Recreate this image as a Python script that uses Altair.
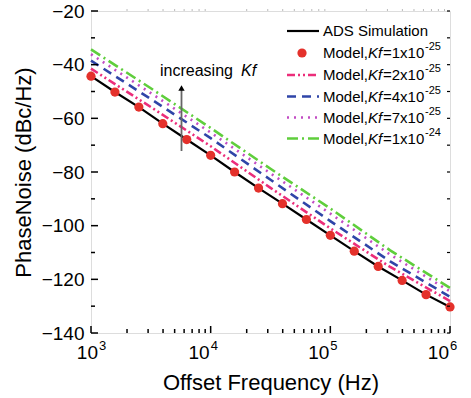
import altair as alt
import pandas as pd

# ---------------- data ----------------
dot_freq = [1000, 1585, 2512, 3981, 6310, 10000, 15849, 25119, 39811, 63096,
            100000, 158489, 251189, 398107, 630957, 1000000]
ads_pn = [-44.3, -50.2, -55.8, -62.0, -67.9, -73.8, -80.0, -86.0, -91.8, -97.7,
          -103.6, -109.5, -115.2, -120.4, -125.7, -130.3]
model1_pn = [-44.3, -50.2, -55.8, -62.0, -67.9, -73.8, -80.0, -86.0, -91.8, -97.7,
             -103.6, -109.5, -115.2, -120.4, -125.7, -130.3]

line_freq = [1000, 3162, 10000, 31623, 100000, 316228, 1000000]
model2_pn = [-41.5, -55.8, -70.4, -85.9, -101.0, -115.4, -128.1]
model4_pn = [-38.5, -52.8, -67.4, -82.9, -98.3, -113.3, -126.5]
model7_pn = [-36.1, -50.6, -65.3, -80.5, -95.5, -110.8, -124.5]
model10_pn = [-34.3, -48.8, -63.6, -78.8, -93.6, -109.2, -123.2]

series_names = ["Kf=2", "Kf=4", "Kf=7", "Kf=10"]
series_values = [model2_pn, model4_pn, model7_pn, model10_pn]
series_colors = ["#ec2d7a", "#2f45a8", "#c24cc4", "#5fce3c"]
series_dash = [[8, 3, 2, 3, 2, 3], [9, 6], [2, 5], [11, 4, 2, 4]]
legend_exp = ["-25", "-25", "-25", "-24"]
legend_mant = ["=2x10", "=4x10", "=7x10", "=1x10"]

decades = [1000, 10000, 100000, 1000000]
decade_exp = ["3", "4", "5", "6"]
minor_x = [2000, 3000, 4000, 5000, 6000, 7000, 8000, 9000,
           20000, 30000, 40000, 50000, 60000, 70000, 80000, 90000,
           200000, 300000, 400000, 500000, 600000, 700000, 800000, 900000]
major_y = [-20, -40, -60, -80, -100, -120, -140]
minor_y = [-30, -50, -70, -90, -110, -130]

# ---------------- layout ----------------
W, H = 359, 322
FONT = "Liberation Sans"
xs = alt.Scale(type="log", domain=[1000, 1000000], nice=False)
ys = alt.Scale(domain=[-140, -20], nice=False)

one = pd.DataFrame({"a": [0]})

ads_df = pd.DataFrame({"f": dot_freq, "pn": ads_pn})
dots_df = pd.DataFrame({"f": dot_freq, "pn": model1_pn})

base_x = alt.X("f:Q", scale=xs,
               axis=alt.Axis(labels=False, ticks=False, domain=False, grid=False,
                             title="Offset Frequency (Hz)", titleFont=FONT,
                             titleFontSize=22, titleFontWeight="normal",
                             titleColor="black", titleY=49, titleBaseline="middle"))
base_y = alt.Y("pn:Q", scale=ys,
               axis=alt.Axis(ticks=False, domain=False, grid=False, values=major_y,
                             labelFont=FONT, labelFontSize=19, labelColor="black",
                             labelPadding=7,
                             title="PhaseNoise (dBc/Hz)", titleFont=FONT,
                             titleFontSize=22, titleFontWeight="normal",
                             titleColor="black", titleX=-68, titleBaseline="middle"))

layers = []

for name, vals, col, dash in zip(series_names, series_values, series_colors, series_dash):
    df = pd.DataFrame({"f": line_freq, "pn": vals})
    layers.append(alt.Chart(df).mark_line(color=col, strokeWidth=2.6, strokeDash=dash)
                  .encode(x=alt.X("f:Q", scale=xs), y=alt.Y("pn:Q", scale=ys)))

layers.insert(0, alt.Chart(ads_df).mark_line(color="black", strokeWidth=2.2)
              .encode(x=base_x, y=base_y))
layers.append(alt.Chart(dots_df).mark_circle(color="#e4312b", opacity=1, size=85)
              .encode(x=alt.X("f:Q", scale=xs), y=alt.Y("pn:Q", scale=ys)))

# ---- inward ticks ----
def yticks(vals, x0, x1, w=1.5):
    return alt.Chart(pd.DataFrame({"pn": vals})).mark_rule(color="black", strokeWidth=w).encode(
        y=alt.Y("pn:Q", scale=ys), x=alt.value(x0), x2=alt.value(x1))

def xticks(vals, y0, y1, col="black", w=1.5):
    return alt.Chart(pd.DataFrame({"f": vals})).mark_rule(color=col, strokeWidth=w).encode(
        x=alt.X("f:Q", scale=xs), y=alt.value(y0), y2=alt.value(y1))

layers += [
    yticks(major_y, 0, 7), yticks(minor_y, 0, 4),
    yticks(major_y + minor_y, W, W - 3, 1.2),
    xticks(decades, H, H - 7), xticks(minor_x, H, H - 4),
    xticks(minor_x, 0, -2, "#bbbbbb", 1),
]

# ---- x tick labels (10 with superscript exponent) ----
lab_df = pd.DataFrame({"f": decades, "e": decade_exp, "dx": [7, 0, 0, 0]})
for i, (f, e) in enumerate(zip(decades, decade_exp)):
    d = lab_df.iloc[[i]]
    shift = [7, -1, -1, -1][i]
    layers.append(alt.Chart(d).mark_text(text="10", font=FONT, fontSize=19, align="right",
                                         baseline="middle", color="black", dx=shift)
                  .encode(x=alt.X("f:Q", scale=xs), y=alt.value(H + 20)))
    layers.append(alt.Chart(d).mark_text(font=FONT, fontSize=13, align="left",
                                         baseline="middle", color="black", dx=shift + 1)
                  .encode(x=alt.X("f:Q", scale=xs), y=alt.value(H + 13), text="e:N"))

# ---- legend ----
def txt(t, x, y, size=15, italic=False, dy=0):
    return alt.Chart(one).mark_text(text=t, font=FONT, fontSize=size, align="left",
                                    baseline="middle", color="black", dy=dy,
                                    fontStyle="italic" if italic else "normal").encode(
        x=alt.value(x), y=alt.value(y))

rows_y = [20, 42, 64, 85.5, 106.5, 127.5]
sx0, sx1, tx = 196, 228, 232
layers.append(alt.Chart(one).mark_rule(color="black", strokeWidth=2.2).encode(
    x=alt.value(sx0), x2=alt.value(sx1), y=alt.value(rows_y[0])))
layers.append(txt("ADS Simulation", tx, rows_y[0]))
layers.append(alt.Chart(one).mark_circle(color="#e4312b", opacity=1, size=85).encode(
    x=alt.value(211), y=alt.value(rows_y[1])))
mants = ["=1x10"] + legend_mant
exps = ["-25"] + legend_exp
for i in range(5):
    y = rows_y[i + 1]
    if i > 0:
        layers.append(alt.Chart(one).mark_rule(color=series_colors[i - 1], strokeWidth=2.6,
                                               strokeDash=series_dash[i - 1]).encode(
            x=alt.value(sx0), x2=alt.value(sx1), y=alt.value(y)))
    layers.append(txt("Model,", tx, y))
    layers.append(txt("Kf", tx + 45, y, italic=True))
    layers.append(txt(mants[i], tx + 60, y))
    layers.append(txt(exps[i], tx + 102, y, size=11, dy=-6))

# ---- annotation ----
layers.append(txt("increasing", 69, 60, size=16))
layers.append(txt("Kf", 150, 60, size=16, italic=True))
layers.append(alt.Chart(one).mark_rule(color="#666666", strokeWidth=1.8).encode(
    x=alt.value(90.5), y=alt.value(140), y2=alt.value(78)))
layers.append(alt.Chart(one).mark_point(shape="triangle-up", filled=True, color="black",
                                        opacity=1, size=40).encode(
    x=alt.value(90.5), y=alt.value(77)))

chart = alt.layer(*layers).properties(
    width=W, height=H,
    autosize=alt.AutoSizeParams(type="none"),
    padding={"left": 91, "top": 11, "right": 21, "bottom": 65},
).configure_view(stroke="black", strokeWidth=2.2).configure(background="white")

chart.save("out.html", embed_options={"renderer": "svg", "actions": False})
